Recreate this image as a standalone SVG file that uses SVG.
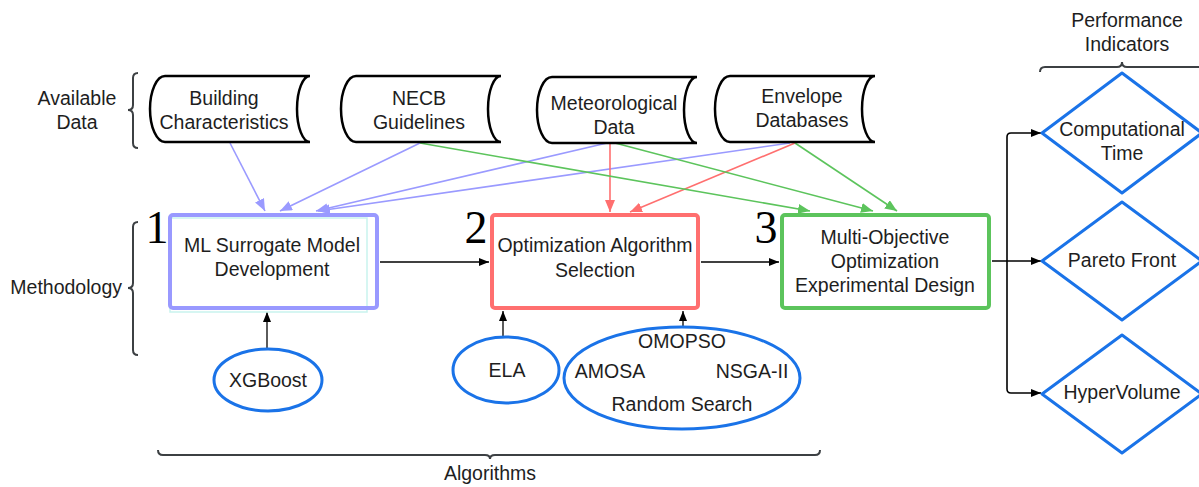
<svg xmlns="http://www.w3.org/2000/svg" width="1199" height="487" viewBox="0 0 1199 487">
<style>
.t{font-family:"Liberation Sans",Arial,sans-serif;font-size:19.5px;fill:#1e1e1e;text-anchor:middle}
.num{font-family:"Liberation Serif","Times New Roman",serif;font-size:46px;fill:#000;text-anchor:middle}
.data{fill:#fff;stroke:#000;stroke-width:2.5}
.brace{fill:none;stroke:#3c4043;stroke-width:2}
.ell{fill:#fff;stroke:#1a73e8;stroke-width:3}
.dia{fill:#fff;stroke:#1a73e8;stroke-width:3;stroke-linejoin:round}
.c{fill:none;stroke-width:1.6}
</style>
<defs>
<path id="ds" d="M15,0 H160 A13,33 0 0 0 160,66 H15 A15,33 0 0 1 15,0 Z"/>
<marker id="ab" markerUnits="userSpaceOnUse" markerWidth="11" markerHeight="9" refX="10" refY="4" orient="auto"><path d="M0,0 L10,4 L0,8 Z" fill="#000"/></marker>
<marker id="al" markerUnits="userSpaceOnUse" markerWidth="13" markerHeight="11" refX="12" refY="5" orient="auto"><path d="M0,0 L12,5 L0,10 Z" fill="#9a9aff"/></marker>
<marker id="ar" markerUnits="userSpaceOnUse" markerWidth="13" markerHeight="11" refX="12" refY="5" orient="auto"><path d="M0,0 L12,5 L0,10 Z" fill="#ff6f6f"/></marker>
<marker id="ag" markerUnits="userSpaceOnUse" markerWidth="13" markerHeight="11" refX="12" refY="5" orient="auto"><path d="M0,0 L12,5 L0,10 Z" fill="#5cc45c"/></marker>
</defs>

<g id="labels">
<text class="t" x="77" y="105">Available</text>
<text class="t" x="77" y="129">Data</text>
<text class="t" x="122" y="294" style="text-anchor:end">Methodology</text>
<text class="t" x="490" y="480">Algorithms</text>
<text class="t" x="1127" y="27">Performance</text>
<text class="t" x="1127" y="51">Indicators</text>
<path class="brace" d="M138,73 Q133,73 133,78 V105 Q133,110 128,110 Q133,110 133,115 V143 Q133,148 138,148"/>
<path class="brace" d="M138,222 Q133,222 133,227 V283 Q133,288 128,288 Q133,288 133,293 V350 Q133,355 138,355"/>
<path class="brace" d="M158,450 Q158,455 163,455 H485 Q490,455 490,459 Q490,455 495,455 H815 Q820,455 820,450"/>
<path class="brace" d="M1040,72 Q1040,67 1045,67 H1117 Q1122,67 1122,62 Q1122,67 1127,67 H1205"/>
</g>

<g id="connectors">
<path class="c" stroke="#9a9aff" d="M230,143 L265,211" marker-end="url(#al)"/>
<path class="c" stroke="#9a9aff" d="M420,143 L280,211" marker-end="url(#al)"/>
<path class="c" stroke="#9a9aff" d="M607,143 L316,211" marker-end="url(#al)"/>
<path class="c" stroke="#9a9aff" d="M790,143 L318,211" marker-end="url(#al)"/>
<path class="c" stroke="#ff6f6f" d="M610,143 L610,212" marker-end="url(#ar)"/>
<path class="c" stroke="#ff6f6f" d="M795,143 L630,212" marker-end="url(#ar)"/>
<path class="c" stroke="#5cc45c" d="M420,143 L810,211" marker-end="url(#ag)"/>
<path class="c" stroke="#5cc45c" d="M615,143 L873,211" marker-end="url(#ag)"/>
<path class="c" stroke="#5cc45c" d="M795,143 L897,211" marker-end="url(#ag)"/>
<path class="c" stroke="#000" d="M380,262 H489" marker-end="url(#ab)"/>
<path class="c" stroke="#000" d="M701,262 H779" marker-end="url(#ab)"/>
<path class="c" stroke="#000" d="M992,261 H1041" marker-end="url(#ab)"/>
<path class="c" stroke="#000" d="M1007,261 V137 Q1007,133 1011,133 H1041" marker-end="url(#ab)"/>
<path class="c" stroke="#000" d="M1007,261 V389 Q1007,393 1011,393 H1041" marker-end="url(#ab)"/>
<path class="c" stroke="#333" d="M267,348 V312" marker-end="url(#ab)"/>
<path class="c" stroke="#333" d="M503,337 V311" marker-end="url(#ab)"/>
<path class="c" stroke="#333" d="M683,327 V311" marker-end="url(#ab)"/>
</g>

<g id="building">
<use href="#ds" x="150" y="76" class="data"/>
<text class="t" x="224" y="105">Building</text>
<text class="t" x="224" y="129">Characteristics</text>
</g>
<g id="necb">
<use href="#ds" x="341" y="76" class="data"/>
<text class="t" x="419" y="105">NECB</text>
<text class="t" x="419" y="129">Guidelines</text>
</g>
<g id="meteorological">
<use href="#ds" x="537" y="77" class="data"/>
<text class="t" x="614" y="110">Meteorological</text>
<text class="t" x="614" y="134">Data</text>
</g>
<g id="envelope">
<use href="#ds" x="715" y="76" class="data"/>
<text class="t" x="802" y="103">Envelope</text>
<text class="t" x="802" y="127">Databases</text>
</g>

<g id="box1">
<rect x="170" y="218" width="197" height="94" fill="none" stroke="#c9f3ee" stroke-width="1.5"/>
<rect x="170" y="215" width="207" height="93" rx="3" fill="none" stroke="#9999ff" stroke-width="4"/>
<text class="num" x="157" y="243">1</text>
<text class="t" x="272" y="252">ML Surrogate Model</text>
<text class="t" x="272" y="276">Development</text>
</g>
<g id="box2">
<rect x="492" y="215" width="206" height="93" rx="3" fill="#fff" stroke="#ff6f6f" stroke-width="4"/>
<text class="num" x="476" y="243">2</text>
<text class="t" x="595" y="252">Optimization Algorithm</text>
<text class="t" x="595" y="277">Selection</text>
</g>
<g id="box3">
<rect x="782" y="215" width="207" height="93" rx="3" fill="#fff" stroke="#5cc45c" stroke-width="4"/>
<text class="num" x="766" y="243">3</text>
<text class="t" x="885" y="244">Multi-Objective</text>
<text class="t" x="885" y="268">Optimization</text>
<text class="t" x="885" y="292">Experimental Design</text>
</g>

<g id="xgboost">
<ellipse class="ell" cx="268" cy="380" rx="54" ry="31"/>
<text class="t" x="268" y="387">XGBoost</text>
</g>
<g id="ela">
<ellipse class="ell" cx="506" cy="370" rx="53" ry="33"/>
<text class="t" x="507" y="377">ELA</text>
</g>
<g id="algorithms">
<ellipse class="ell" cx="682" cy="378" rx="118" ry="51"/>
<text class="t" x="682" y="348">OMOPSO</text>
<text class="t" x="610" y="378">AMOSA</text>
<text class="t" x="752" y="378">NSGA-II</text>
<text class="t" x="682" y="411">Random Search</text>
</g>

<g id="computational">
<path class="dia" d="M1122,73 L1202,133 L1122,193 L1042,133 Z"/>
<text class="t" x="1122" y="136">Computational</text>
<text class="t" x="1122" y="160">Time</text>
</g>
<g id="pareto">
<path class="dia" d="M1122,202 L1202,261 L1122,320 L1042,261 Z"/>
<text class="t" x="1122" y="267">Pareto Front</text>
</g>
<g id="hypervolume">
<path class="dia" d="M1122,335 L1202,394 L1122,453 L1042,394 Z"/>
<text class="t" x="1122" y="399">HyperVolume</text>
</g>
</svg>
